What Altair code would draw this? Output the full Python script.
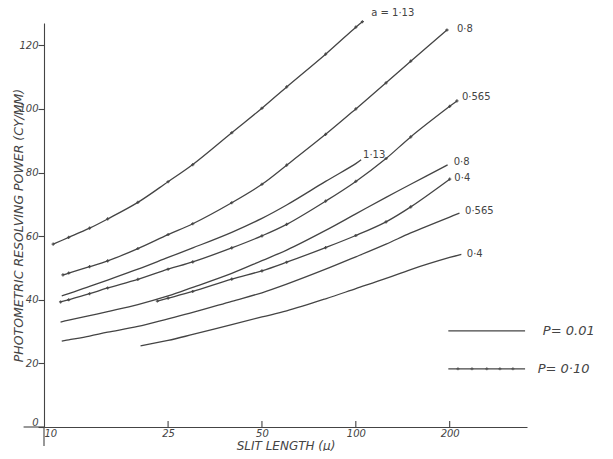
import altair as alt
import pandas as pd

INK = "#444444"
FONT = "DejaVu Sans"

# ---- curve data (slit length in microns, resolving power in cy/mm) ----
p10_a113_x = [10.7, 12, 14, 16, 20, 25, 30, 40, 50, 60, 80, 100, 105]
p10_a113_y = [57.5, 59.6, 62.5, 65.4, 70.6, 77.1, 82.5, 92.5, 100.2, 106.9, 117.2, 125.7, 127.4]

p10_a08_x = [11.5, 12, 14, 16, 20, 25, 30, 40, 50, 60, 80, 100, 125, 150, 196]
p10_a08_y = [47.8, 48.4, 50.4, 52.2, 56.1, 60.5, 63.9, 70.5, 76.3, 82.3, 92.0, 100.0, 108.2, 115.0, 124.8]

p10_a0565_x = [11.3, 12, 14, 16, 20, 25, 30, 40, 50, 60, 80, 100, 125, 150, 200, 211]
p10_a0565_y = [39.3, 40.0, 41.9, 43.7, 46.4, 49.6, 51.9, 56.3, 60.1, 63.7, 71.0, 77.2, 84.4, 91.2, 100.8, 102.5]

p10_a04_x = [23.1, 25, 30, 40, 50, 60, 80, 100, 125, 150, 200]
p10_a04_y = [39.6, 40.5, 42.6, 46.5, 49.1, 51.8, 56.4, 60.2, 64.5, 69.2, 77.9]

p01_a113_x = [11.4, 12, 14, 16, 20, 25, 30, 40, 50, 60, 80, 100, 104]
p01_a113_y = [41.2, 41.9, 44.2, 46.2, 49.6, 53.3, 56.3, 61.2, 65.6, 69.8, 77.2, 82.8, 84.0]

p01_a08_x = [11.3, 12, 14, 16, 20, 25, 30, 40, 50, 60, 80, 100, 125, 150, 197]
p01_a08_y = [33.0, 33.6, 35.0, 36.3, 38.5, 41.2, 43.9, 48.3, 52.3, 55.6, 61.8, 67.0, 72.2, 76.3, 82.4]

p01_a0565_x = [11.4, 12, 14, 16, 20, 25, 30, 40, 50, 60, 80, 100, 125, 150, 200, 215]
p01_a0565_y = [27.0, 27.4, 28.6, 29.8, 31.6, 34.0, 36.0, 39.5, 42.2, 44.9, 49.6, 53.5, 57.5, 61.0, 66.0, 67.2]

p01_a04_x = [20.4, 25, 30, 40, 50, 60, 80, 100, 125, 150, 200, 218]
p01_a04_y = [25.5, 27.2, 29.1, 32.2, 34.6, 36.5, 40.3, 43.5, 46.7, 49.5, 53.3, 54.3]

# ---- curve-end labels ----
label_text = ["a = 1·13", "0·8", "0·565", "1·13", "0·8", "0·4", "0·565", "0·4"]
label_x = [112, 211, 219, 105.5, 206, 207, 224, 227]
label_y = [130, 125.2, 103.8, 85.5, 83.3, 78.3, 67.9, 54.4]

# ---- key (legend) ----
key_text = ["P= 0.01", "P= 0·10"]
key_text_x = [398, 383]
key_text_y = [30.2, 18.3]
key_line_x = [198, 349]
key_mark_x = [212.6, 235.8, 263, 289.8, 319]

# ---- axis ticks ----
x_ticks = [10, 25, 50, 100, 200]
x_inner_ticks = [25, 50, 100, 200]
y_ticks = [0, 20, 40, 60, 80, 100, 120]

series = [
    ("P=0.10", "1.13", p10_a113_x, p10_a113_y),
    ("P=0.10", "0.8", p10_a08_x, p10_a08_y),
    ("P=0.10", "0.565", p10_a0565_x, p10_a0565_y),
    ("P=0.10", "0.4", p10_a04_x, p10_a04_y),
    ("P=0.01", "1.13", p01_a113_x, p01_a113_y),
    ("P=0.01", "0.8", p01_a08_x, p01_a08_y),
    ("P=0.01", "0.565", p01_a0565_x, p01_a0565_y),
    ("P=0.01", "0.4", p01_a04_x, p01_a04_y),
]
rows = []
for p, a, xs, ys in series:
    for x, y in zip(xs, ys):
        rows.append({"curve": p + " a=" + a, "P": p, "x": x, "y": y})
df = pd.DataFrame(rows)

labels_df = pd.DataFrame({"t": label_text, "x": label_x, "y": label_y})
key_text_df = pd.DataFrame({"t": key_text, "x": key_text_x, "y": key_text_y})
key_lines_df = pd.DataFrame(
    [{"k": "P=0.01", "x": xv, "y": key_text_y[0]} for xv in key_line_x]
    + [{"k": "P=0.10", "x": xv, "y": key_text_y[1]} for xv in key_line_x]
)
key_marks_df = pd.DataFrame({"x": key_mark_x, "y": [key_text_y[1]] * len(key_mark_x)})
ticks_df = pd.DataFrame({"x": x_inner_ticks, "y": [0] * 4, "y2": [1.9] * 4})
ext_df = pd.DataFrame({"x": [8.6], "x2": [10], "y": [0]})
ext_v_df = pd.DataFrame({"x": [10], "y": [-6.0], "y2": [0]})

xscale = alt.Scale(type="log", domain=[10, 354], nice=False)
yscale = alt.Scale(domain=[0, 127], nice=False, zero=False)

xaxis = alt.Axis(
    values=x_ticks, format=".0f", ticks=False, grid=False, labelFlush=True,
    labelPadding=1, title="SLIT LENGTH (μ)", titleY=22, titleBaseline="alphabetic",
    titleFontSize=12,
)
yaxis = alt.Axis(
    values=y_ticks, grid=False, tickSize=6, labelPadding=0, labelFlush=True,
    title="PHOTOMETRIC RESOLVING POWER (CY/MM)", titleX=-19, titleBaseline="bottom",
    titleFontSize=12.5,
)

lines = alt.Chart(df).mark_line(
    color=INK, strokeWidth=1.3, interpolate="catmull-rom"
).encode(
    x=alt.X("x:Q", scale=xscale, axis=xaxis),
    y=alt.Y("y:Q", scale=yscale, axis=yaxis),
    detail="curve:N",
)

marks = alt.Chart(df).transform_filter(alt.datum.P == "P=0.10").mark_point(
    shape="cross", filled=True, size=10, color=INK, opacity=0.9
).encode(x="x:Q", y="y:Q")

labels = alt.Chart(labels_df).mark_text(
    align="left", baseline="middle", font=FONT, fontSize=10, color=INK
).encode(x="x:Q", y="y:Q", text="t:N")

key_lines = alt.Chart(key_lines_df).mark_line(color=INK, strokeWidth=1.2).encode(
    x="x:Q", y="y:Q", detail="k:N"
)
key_marks = alt.Chart(key_marks_df).mark_point(
    shape="cross", filled=True, size=10, color=INK
).encode(x="x:Q", y="y:Q")
key_labels = alt.Chart(key_text_df).mark_text(
    align="left", baseline="middle", font=FONT, fontSize=13, fontStyle="italic", color=INK
).encode(x="x:Q", y="y:Q", text="t:N")

inner_ticks = alt.Chart(ticks_df).mark_rule(color=INK, strokeWidth=1.1).encode(
    x="x:Q", y="y:Q", y2="y2:Q"
)
ext_h = alt.Chart(ext_df).mark_rule(color=INK, strokeWidth=1.1).encode(
    x="x:Q", x2="x2:Q", y="y:Q"
)
ext_v = alt.Chart(ext_v_df).mark_rule(color=INK, strokeWidth=1.1).encode(
    x="x:Q", y="y:Q", y2="y2:Q"
)

chart = alt.layer(
    lines, marks, labels, key_lines, key_marks, key_labels, inner_ticks, ext_h, ext_v
).properties(
    width=483,
    height=404,
    autosize=alt.AutoSizeParams(type="none"),
    padding={"left": 36, "top": 15, "right": 78, "bottom": 24},
).configure_view(
    stroke=None
).configure_axis(
    domainColor=INK,
    domainWidth=1.1,
    tickColor=INK,
    tickWidth=1.1,
    labelFont=FONT,
    labelFontSize=10,
    labelFontStyle="italic",
    labelColor=INK,
    titleFont=FONT,
    titleFontStyle="italic",
    titleFontWeight="normal",
    titleColor=INK,
)

chart.save("out.html", embed_options={"renderer": "svg", "actions": False})
